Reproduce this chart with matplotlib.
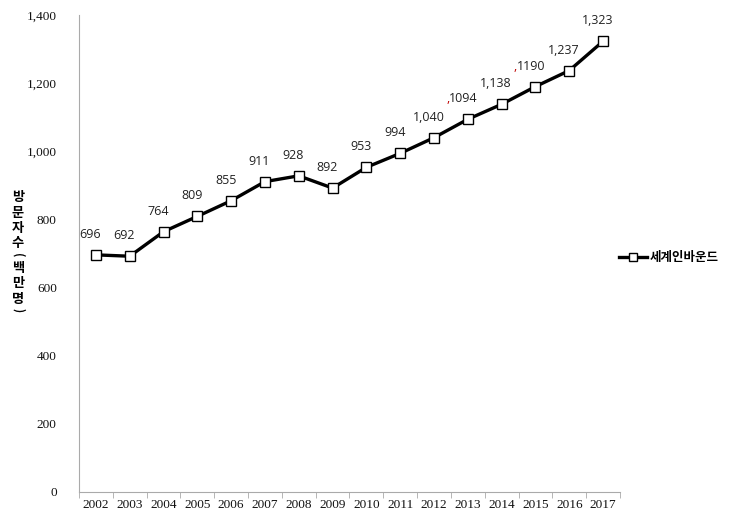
import matplotlib
matplotlib.use("Agg")
import matplotlib.pyplot as plt
from matplotlib.ticker import FixedLocator, FuncFormatter

years = ["2002", "2003", "2004", "2005", "2006", "2007", "2008", "2009",
         "2010", "2011", "2012", "2013", "2014", "2015", "2016", "2017"]
values = [696, 692, 764, 809, 855, 911, 928, 892, 953, 994, 1040, 1094, 1138, 1190, 1237, 1323]
labels = ["696", "692", "764", "809", "855", "911", "928", "892", "953", "994",
          "1,040", ",1094", "1,138", ",1190", "1,237", "1,323"]
yticks = [0, 200, 400, 600, 800, 1000, 1200, 1400]
ylabel_chars = ["방", "문", "자", "수", "(", "백", "만", "명", ")"]
series_name = "세계인바운드"

fig = plt.figure(figsize=(7.51, 5.13), dpi=100)
ax = fig.add_axes([79/751, 1 - 492/513, (620-79)/751, (492-15)/513])

x = list(range(len(years)))
ax.plot(x, values, color="black", lw=2.4, marker="s", markersize=7,
        markerfacecolor="white", markeredgecolor="black", markeredgewidth=1.0,
        label=series_name, zorder=3)

for xi, v, lab in zip(x, values, labels):
    if lab.startswith(","):
        t = ax.annotate(lab[1:], (xi, v), xytext=(-3, 10), textcoords="offset points",
                        ha="center", va="bottom", fontsize=9, color="#222222",
                        family="Open Sans")
        ax.annotate(",", xy=(0, 0), xycoords=t, ha="right", va="bottom",
                    fontsize=9, color="#c00000", family="Open Sans")
    else:
        ax.annotate(lab, (xi, v), xytext=(-4, 10), textcoords="offset points",
                    ha="center", va="bottom", fontsize=9, color="#222222",
                    family="Open Sans")

ax.set_xlim(-0.5, len(years) - 0.5)
ax.set_ylim(0, 1400)
ax.set_xticks(x)
ax.set_xticklabels(years, family="Liberation Serif", fontsize=9.5, color="#111111")
ax.xaxis.set_minor_locator(FixedLocator([i - 0.5 for i in range(len(years) + 1)]))
ax.tick_params(axis="x", which="major", length=0, pad=5)
ax.tick_params(axis="x", which="minor", length=4, color="#aaaaaa")
ax.set_yticks(yticks)
ax.yaxis.set_major_formatter(FuncFormatter(lambda v, p: f"{int(v):,}"))
ax.tick_params(axis="y", length=0, pad=16, labelsize=9.5, labelcolor="#111111")
for t in ax.get_yticklabels():
    t.set_family("Liberation Serif")

for s in ["top", "right"]:
    ax.spines[s].set_visible(False)
ax.spines["left"].set_color("#aaaaaa")
ax.spines["bottom"].set_color("#aaaaaa")

# stacked vertical axis title
ypix = 197
for ch in ylabel_chars:
    if ch in "()":
        ypix -= 4
        fig.text(18/751, 1 - ypix/513, ch, ha="center", va="center", rotation=-90,
                 family=["Noto Sans CJK KR", "DejaVu Sans"], fontweight="bold", fontsize=8)
        ypix += 13
    else:
        fig.text(18/751, 1 - ypix/513, ch, ha="center", va="center",
                 family=["Noto Sans CJK KR", "DejaVu Sans"], fontweight="bold", fontsize=9.5)
        ypix += 15.5

leg = fig.legend(loc="center left", bbox_to_anchor=(608/751, 1 - 258/513), frameon=False,
                 handlelength=2.2, handletextpad=0.2, markerscale=0.8,
                 prop={"family": ["Noto Sans CJK KR", "DejaVu Sans"], "weight": "bold", "size": 9})

fig.savefig("out.png", dpi=100)
